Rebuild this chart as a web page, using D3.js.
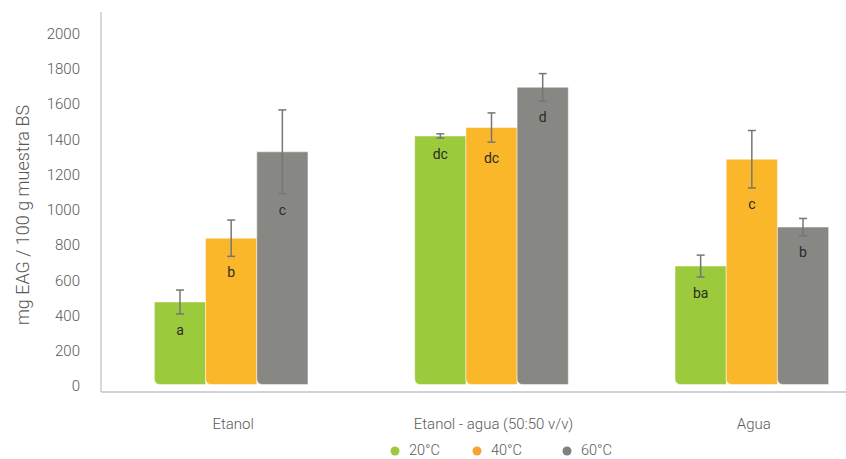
<!DOCTYPE html>
<html><head><meta charset="utf-8">
<script src="https://cdn.jsdelivr.net/npm/d3@7"></script>
<style>body{margin:0;background:#fff}svg{display:block}text{font-family:Roboto,"Noto Sans",sans-serif}</style>
</head><body><svg id="c" width="846" height="459"></svg>
<script>
const categories = ["Etanol", "Etanol - agua (50:50 v/v)", "Agua"];
const seriesNames = ["20°C", "40°C", "60°C"];
const values20 = [468, 1410, 672];
const values40 = [830, 1458, 1278];
const values60 = [1320, 1686, 893];
const err20 = [68, 12, 62];
const err40 = [103, 83, 163];
const err60 = [238, 78, 49];
const letters20 = ["a", "dc", "ba"];
const letters40 = ["b", "dc", "c"];
const letters60 = ["c", "d", "b"];
const yTicks = [0, 200, 400, 600, 800, 1000, 1200, 1400, 1600, 1800, 2000];

const colors = ["#9BCA3C", "#FBB72A", "#878883"];
const legendColors = ["#9BCA3C", "#F8A232", "#80807d"];
const values = [values20, values40, values60];
const errs = [err20, err40, err60];
const letters = [letters20, letters40, letters60];

const svg = d3.select("#c");
const y = d3.scaleLinear().domain([0, 2000]).range([384.5, 32]);
const x0 = d3.scaleBand().domain(categories).range([101, 882]).paddingInner(0.41).paddingOuter(0.205);
const x1 = d3.scaleBand().domain(seriesNames).range([0, x0.bandwidth()]);

// axes lines
svg.append("line").attr("x1", 101).attr("x2", 101).attr("y1", 12).attr("y2", 392).attr("stroke", "#c4c4c4").attr("stroke-width", 1.3);
svg.append("line").attr("x1", 101).attr("x2", 846).attr("y1", 392).attr("y2", 392).attr("stroke", "#c4c4c4").attr("stroke-width", 1.3);

// y tick labels
const yAxis = d3.axisLeft(y).tickValues(yTicks).tickSize(0).tickPadding(0).tickFormat(d3.format("d"));
const gy = svg.append("g").attr("transform", "translate(80,1.5)").call(yAxis);
gy.select(".domain").remove();
gy.selectAll("text").attr("font-size", 15).attr("fill", "#595959").attr("font-weight", 300).attr("font-family", "Roboto");

// y label
svg.append("text").attr("transform", "translate(23,215) rotate(-90)").attr("text-anchor", "middle").attr("dy", "0.35em")
  .attr("font-size", 18).attr("fill", "#595959").attr("font-weight", 300).text("mg EAG / 100 g muestra BS");

// x labels
const xAxis = d3.axisBottom(x0).tickSize(0).tickPadding(0);
const gx = svg.append("g").attr("transform", "translate(2,418)").call(xAxis);
gx.select(".domain").remove();
gx.selectAll("text").attr("font-size", 15).attr("fill", "#595959").attr("font-weight", 300).attr("font-family", "Roboto");

const r = 6;
function barPath(x, w, yt, yb) {
  return `M${x},${yt}H${x + w}V${yb}H${x + r}Q${x},${yb} ${x},${yb - r}Z`;
}

seriesNames.forEach((s, si) => {
  const g = svg.append("g");
  categories.forEach((c, ci) => {
    const v = values[si][ci], e = errs[si][ci];
    const bx = x0(c) + x1(s), bw = x1.bandwidth();
    g.append("path").attr("d", barPath(bx, bw, y(v), y(0))).attr("fill", colors[si])
      .attr("stroke", "rgba(255,255,255,0.45)").attr("stroke-width", 1);
    const cx = bx + bw / 2;
    g.append("line").attr("x1", cx).attr("x2", cx).attr("y1", y(v + e)).attr("y2", y(v - e)).attr("stroke", "#767676").attr("stroke-width", 1.5);
    [v + e, v - e].forEach(t => g.append("line").attr("x1", cx - 4).attr("x2", cx + 4).attr("y1", y(t)).attr("y2", y(t)).attr("stroke", "#767676").attr("stroke-width", 1.5));
    g.append("text").attr("x", cx).attr("y", y(v - e) + 16).attr("dy", "0.35em").attr("text-anchor", "middle")
      .attr("font-size", 14).attr("fill", "#2b2b2b").text(letters[si][ci]);
  });
});

// legend
const legX = [395, 477, 567];
seriesNames.forEach((s, i) => {
  svg.append("circle").attr("cx", legX[i]).attr("cy", 451).attr("r", 4.5).attr("fill", legendColors[i]);
  svg.append("text").attr("x", legX[i] + 14).attr("y", 450).attr("dy", "0.35em").attr("font-size", 14.5)
    .attr("fill", "#595959").attr("font-weight", 300).text(s);
});
</script></body></html>
